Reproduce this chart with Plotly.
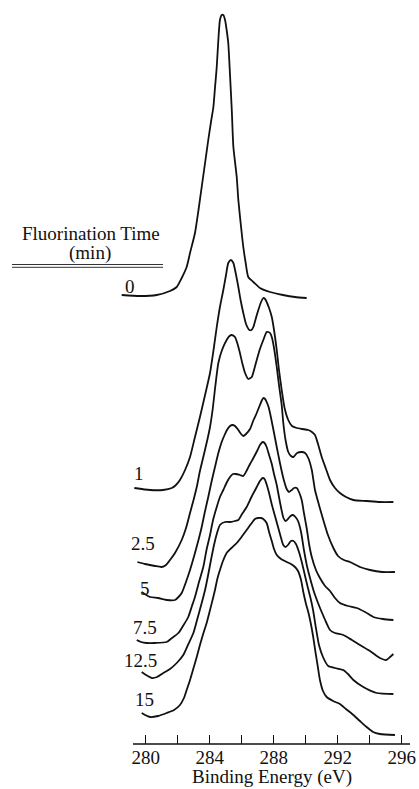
import plotly.graph_objects as go

# C 1s spectra after successive fluorination times (stacked, arbitrary intensity units)
fluorination_time = ["0", "1", "2.5", "5", "7.5", "12.5", "15"]

energy_0 = [278.50, 279.64, 280.69, 281.52, 281.94, 282.25, 282.56, 282.77, 283.08, 283.30,
            283.50, 283.71, 283.91, 284.08, 284.23, 284.33, 284.44, 284.54, 284.64, 284.75,
            284.85, 284.96, 285.06, 285.16, 285.27, 285.38, 285.48, 285.69, 285.79, 286.00,
            286.10, 286.24, 286.41, 286.73, 287.14, 287.77, 288.58, 289.33, 290.06]
signal_0 = [449, 448, 449, 453, 457, 466, 477, 491, 511, 534,
            557, 581, 604, 622, 637, 656, 677, 704, 724, 729,
            729, 724, 714, 701, 669, 634, 597, 567, 544, 511,
            497, 482, 467, 462, 456, 452, 449, 447, 446]

energy_1 = [279.29, 280.27, 281.08, 281.63, 281.89, 282.14, 282.46, 282.77, 283.08, 283.39,
            283.71, 284.02, 284.24, 284.44, 284.64, 284.85, 285.02, 285.16, 285.33, 285.48,
            285.61, 285.79, 285.93, 286.10, 286.27, 286.48, 286.61, 286.73, 286.89, 287.04,
            287.21, 287.35, 287.46, 287.56, 287.71, 287.88, 288.02, 288.19, 288.33, 288.50,
            288.68, 288.91, 289.14, 289.44, 289.77, 290.16, 290.39, 290.58, 290.77, 291.00,
            291.27, 291.52, 291.83, 292.14, 292.52, 292.98, 293.81, 294.64, 295.48]
signal_1 = [256, 254, 254, 256, 259, 264, 274, 287, 307, 327,
            349, 371, 394, 417, 437, 454, 469, 481, 484, 481,
            472, 457, 444, 431, 420, 414, 414, 417, 426, 434,
            442, 446, 445, 442, 436, 427, 414, 394, 374, 354,
            336, 324, 318, 316, 315, 314, 312, 309, 300, 287,
            275, 264, 256, 251, 247, 244, 243, 242, 242]

energy_2_5 = [279.48, 279.96, 280.58, 281.00, 281.27, 281.52, 281.83, 282.25, 282.52, 282.77,
              282.99, 283.19, 283.39, 283.60, 283.85, 284.02, 284.18, 284.36, 284.54, 284.77,
              285.06, 285.24, 285.38, 285.58, 285.74, 285.89, 286.05, 286.21, 286.41, 286.63,
              286.77, 286.94, 287.14, 287.35, 287.56, 287.66, 287.77, 287.88, 288.02, 288.19,
              288.33, 288.50, 288.60, 288.74, 288.91, 289.08, 289.23, 289.46, 289.75, 289.96,
              290.16, 290.38, 290.58, 290.83, 291.10, 291.39, 291.73, 292.02, 292.39, 292.77,
              293.39, 294.02, 294.77, 295.58]
signal_2_5 = [182, 180, 178, 177, 179, 184, 191, 204, 216, 231,
              244, 257, 273, 287, 304, 317, 334, 359, 381, 394,
              404, 408, 409, 407, 400, 391, 380, 371, 365, 367,
              374, 384, 395, 404, 412, 412, 411, 407, 396, 377,
              359, 339, 321, 304, 292, 288, 287, 291, 292, 291,
              286, 274, 254, 239, 224, 209, 196, 188, 184, 182,
              177, 174, 172, 172]

energy_5 = [279.75, 280.27, 280.77, 281.31, 281.83, 282.05, 282.25, 282.56, 282.77, 283.08,
            283.30, 283.50, 283.71, 283.91, 284.11, 284.33, 284.54, 284.75, 284.93, 285.08,
            285.27, 285.43, 285.58, 285.79, 285.96, 286.10, 286.27, 286.52, 286.74, 286.94,
            287.14, 287.27, 287.35, 287.46, 287.56, 287.68, 287.77, 287.96, 288.19, 288.39,
            288.60, 288.81, 288.96, 289.13, 289.27, 289.44, 289.58, 289.75, 289.89, 290.06,
            290.21, 290.38, 290.64, 290.89, 291.21, 291.52, 291.83, 292.14, 292.64, 293.19,
            293.71, 294.23, 294.83, 295.48]
signal_5 = [152, 147, 146, 144, 144, 147, 151, 164, 174, 191,
            204, 217, 233, 247, 262, 277, 291, 302, 309, 314,
            318, 319, 318, 314, 310, 308, 310, 315, 324, 331,
            339, 344, 346, 345, 342, 337, 331, 316, 297, 281,
            266, 255, 252, 254, 256, 256, 252, 244, 231, 216,
            200, 187, 174, 166, 158, 153, 146, 141, 138, 136,
            132, 127, 125, 124]

energy_7_5 = [279.44, 279.71, 280.06, 280.58, 281.31, 281.64, 282.04, 282.33, 282.66, 282.89,
              283.08, 283.33, 283.60, 283.80, 284.02, 284.21, 284.44, 284.64, 284.85, 285.08,
              285.27, 285.46, 285.64, 285.89, 286.10, 286.33, 286.52, 286.73, 286.96, 287.14,
              287.31, 287.43, 287.56, 287.71, 287.88, 288.02, 288.19, 288.33, 288.49, 288.61,
              288.74, 288.89, 289.05, 289.21, 289.36, 289.52, 289.71, 289.89, 290.08, 290.27,
              290.52, 290.77, 291.00, 291.27, 291.52, 291.83, 292.35, 292.89, 293.39, 294.02,
              294.64, 295.02, 295.27, 295.48]
signal_7_5 = [104, 102, 101, 101, 102, 106, 111, 118, 127, 138,
              147, 162, 177, 194, 209, 224, 237, 247, 254, 262,
              267, 270, 270, 269, 268, 274, 280, 286, 293, 299,
              302, 301, 297, 289, 280, 270, 259, 247, 234, 226,
              223, 225, 228, 229, 227, 223, 212, 194, 178, 166,
              152, 141, 132, 122, 114, 111, 109, 104, 99, 93,
              86, 84, 87, 90]

energy_12_5 = [279.75, 280.02, 280.38, 280.71, 281.10, 281.52, 281.94, 282.35, 282.64, 282.98,
               283.21, 283.50, 283.71, 283.89, 284.08, 284.27, 284.46, 284.64, 284.96, 285.27,
               285.58, 285.79, 286.02, 286.31, 286.58, 286.94, 287.14, 287.31, 287.43, 287.55,
               287.71, 287.89, 288.08, 288.27, 288.46, 288.60, 288.74, 288.89, 289.08, 289.24,
               289.39, 289.58, 289.77, 289.96, 290.14, 290.30, 290.46, 290.64, 290.83, 291.08,
               291.41, 291.83, 292.35, 292.64, 292.98, 293.60, 294.44, 295.48]
signal_12_5 = [72, 69, 66, 67, 71, 75, 81, 89, 99, 111,
               124, 141, 154, 168, 184, 199, 211, 219, 222, 222,
               223, 224, 230, 237, 246, 257, 263, 266, 265, 260,
               251, 239, 228, 217, 206, 199, 197, 199, 203, 203,
               200, 192, 181, 168, 156, 146, 134, 116, 99, 87,
               78, 76, 74, 70, 64, 57, 51, 50]

energy_15 = [279.75, 279.96, 280.27, 280.77, 281.31, 281.77, 282.14, 282.39, 282.56, 282.77,
             282.99, 283.19, 283.39, 283.61, 283.81, 284.02, 284.21, 284.33, 284.49, 284.64,
             284.83, 285.06, 285.36, 285.69, 285.99, 286.31, 286.58, 286.83, 287.02, 287.21,
             287.35, 287.56, 287.71, 287.88, 288.02, 288.19, 288.46, 288.81, 289.08, 289.33,
             289.52, 289.71, 289.85, 290.02, 290.16, 290.30, 290.46, 290.61, 290.77, 290.89,
             291.08, 291.31, 291.71, 292.14, 292.52, 292.98, 293.39, 293.81, 294.21, 294.64,
             295.58]
signal_15 = [31, 29, 27, 28, 31, 34, 39, 46, 54, 64,
             76, 87, 99, 111, 121, 134, 146, 154, 166, 174,
             183, 191, 196, 201, 207, 214, 220, 225, 226, 226,
             225, 221, 212, 203, 195, 189, 185, 182, 180, 177,
             173, 164, 152, 140, 132, 122, 108, 92, 76, 64,
             53, 47, 43, 40, 35, 29, 23, 17, 12, 10,
             9]

spectra = [
    (energy_0, signal_0),
    (energy_1, signal_1),
    (energy_2_5, signal_2_5),
    (energy_5, signal_5),
    (energy_7_5, signal_7_5),
    (energy_12_5, signal_12_5),
    (energy_15, signal_15),
]

# where each fluorination-time label sits (energy, intensity)
label_energy = [279.02, 279.61, 279.81, 279.93, 279.96, 279.68, 279.93]
label_signal = [458, 271, 201, 156, 117, 84, 45]

tick_values = [280, 282, 284, 286, 288, 290, 292, 294, 296]
tick_labels = ["280", "", "284", "", "288", "", "292", "", "296"]

W, H = 419, 789
AXIS_PX = 744          # pixel row of the energy axis
FONT = "Liberation Serif, Times New Roman, serif"
INK = "#111111"

fig = go.Figure()
for (e, s), name in zip(spectra, fluorination_time):
    fig.add_trace(go.Scatter(
        x=e, y=s, mode="lines", name=name, showlegend=False,
        line=dict(color=INK, width=1.8, shape="spline", smoothing=0.6),
        hoverinfo="skip",
    ))

for name, xe, ys in zip(fluorination_time, label_energy, label_signal):
    fig.add_annotation(x=xe, y=ys, xref="x", yref="y", text=name, showarrow=False,
                       font=dict(family=FONT, size=19, color=INK),
                       xanchor="center", yanchor="middle")

# legend heading with its double rule
fig.add_annotation(x=90.8 / W, y=1 - 233 / H, xref="paper", yref="paper",
                   text="Fluorination Time", showarrow=False,
                   font=dict(family=FONT, size=19, color=INK),
                   xanchor="center", yanchor="middle")
fig.add_annotation(x=90 / W, y=1 - 253 / H, xref="paper", yref="paper",
                   text="(min)", showarrow=False,
                   font=dict(family=FONT, size=19, color=INK),
                   xanchor="center", yanchor="middle")
for yy in (264.5, 267.3):
    fig.add_shape(type="line", xref="paper", yref="paper",
                  x0=12 / W, x1=163 / W, y0=1 - yy / H, y1=1 - yy / H,
                  line=dict(color="#333333", width=1))

# energy axis base line (shorter than the plotting area)
fig.add_shape(type="line", xref="paper", yref="paper",
              x0=133 / W, x1=410 / W, y0=1 - AXIS_PX / H, y1=1 - AXIS_PX / H,
              line=dict(color=INK, width=1.5))

fig.add_annotation(x=271.7 / W, y=1 - 776.7 / H, xref="paper", yref="paper",
                   text="Binding Energy (eV)", showarrow=False,
                   font=dict(family=FONT, size=19, color=INK),
                   xanchor="center", yanchor="middle")

x_lo = 280 - 145.7 / 16
x_hi = 280 + (W - 145.7) / 16

fig.update_layout(
    width=W, height=H,
    margin=dict(l=0, r=0, t=0, b=0),
    paper_bgcolor="white", plot_bgcolor="white",
    xaxis=dict(range=[x_lo, x_hi], domain=[0, 1],
               tickmode="array", tickvals=tick_values, ticktext=tick_labels,
               ticks="inside", ticklen=9, tickwidth=1.2, tickcolor=INK,
               showline=False, showgrid=False, zeroline=False,
               tickfont=dict(family=FONT, size=19, color=INK)),
    yaxis=dict(range=[0, AXIS_PX], domain=[1 - AXIS_PX / H, 1],
               visible=False, showgrid=False, zeroline=False),
)

fig.write_html("out.html")
